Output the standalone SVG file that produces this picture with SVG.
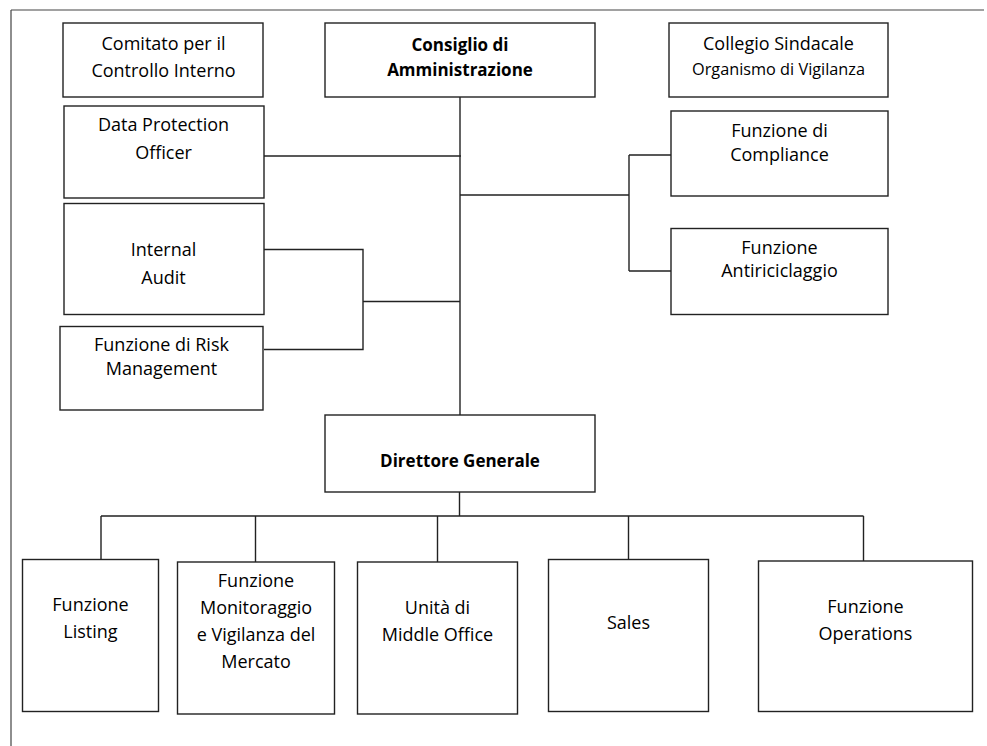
<svg xmlns="http://www.w3.org/2000/svg" width="987" height="746" viewBox="0 0 987 746">
<style>
.bx{fill:#fff;stroke:#222;stroke-width:1.4}
.ln{fill:none;stroke:#222;stroke-width:1.4}
.fr{fill:none;stroke:#444;stroke-width:1.2}
text{font-family:"Open Sans","Noto Sans",sans-serif;font-size:18px;fill:#000;text-anchor:middle}
.b{font-weight:bold;font-size:17px}
.s{font-size:16.3px}
</style>
<rect width="987" height="746" fill="#fff"/>
<g id="frame">
<path class="fr" d="M11 10H984M11 10V746"/>
</g>
<g id="connectors">
<path class="ln" d="M460 97V415"/>
<path class="ln" d="M264 156H461"/>
<path class="ln" d="M460 195H629M629 155V271M629 155H671M629 271H671"/>
<path class="ln" d="M264 249.5H363V349.5H264M363 301.5H460"/>
<path class="ln" d="M459.5 492V516M101 516H863.5M101 516V559M255.5 516V562M437.5 516V562M628.5 516V559M863.5 516V561"/>
</g>
<g id="comitato">
<rect class="bx" x="63" y="23" width="200" height="74"/>
<text x="163.5" y="50">Comitato per il</text>
<text x="163.5" y="77">Controllo Interno</text>
</g>
<g id="consiglio">
<rect class="bx" x="325" y="23" width="270" height="74"/>
<text class="b" x="460" y="50.5">Consiglio di</text>
<text class="b" x="460" y="75.5">Amministrazione</text>
</g>
<g id="collegio">
<rect class="bx" x="669" y="23" width="219" height="74"/>
<text x="778.5" y="50">Collegio Sindacale</text>
<text class="s" x="778.5" y="75">Organismo di Vigilanza</text>
</g>
<g id="dpo">
<rect class="bx" x="64" y="106" width="200" height="92"/>
<text x="163.5" y="131">Data Protection</text>
<text x="163.5" y="159">Officer</text>
</g>
<g id="internal-audit">
<rect class="bx" x="64" y="203.5" width="200" height="111"/>
<text x="163.5" y="256">Internal</text>
<text x="163.5" y="283.5">Audit</text>
</g>
<g id="risk">
<rect class="bx" x="60" y="326.5" width="203" height="83.5"/>
<text x="161.5" y="351">Funzione di Risk</text>
<text x="161.5" y="375">Management</text>
</g>
<g id="compliance">
<rect class="bx" x="671" y="111" width="217" height="85"/>
<text x="779.5" y="137">Funzione di</text>
<text x="779.5" y="161">Compliance</text>
</g>
<g id="antiriciclaggio">
<rect class="bx" x="671" y="228.5" width="217" height="86"/>
<text x="779.5" y="254">Funzione</text>
<text x="779.5" y="277">Antiriciclaggio</text>
</g>
<g id="direttore">
<rect class="bx" x="325" y="415" width="270" height="77"/>
<text class="b" x="460" y="467">Direttore Generale</text>
</g>
<g id="listing">
<rect class="bx" x="22.5" y="559.5" width="136" height="152"/>
<text x="90.5" y="611">Funzione</text>
<text x="90.5" y="638">Listing</text>
</g>
<g id="monitoraggio">
<rect class="bx" x="177.5" y="562" width="157" height="152"/>
<text x="256" y="587">Funzione</text>
<text x="256" y="614">Monitoraggio</text>
<text x="256" y="641">e Vigilanza del</text>
<text x="256" y="668">Mercato</text>
</g>
<g id="middle-office">
<rect class="bx" x="357.5" y="562" width="160" height="152"/>
<text x="437.5" y="614">Unità di</text>
<text x="437.5" y="641">Middle Office</text>
</g>
<g id="sales">
<rect class="bx" x="548.5" y="559.5" width="160" height="152"/>
<text x="628.5" y="629">Sales</text>
</g>
<g id="operations">
<rect class="bx" x="758.5" y="561" width="214" height="150.5"/>
<text x="865.5" y="613">Funzione</text>
<text x="865.5" y="640">Operations</text>
</g>
</svg>
